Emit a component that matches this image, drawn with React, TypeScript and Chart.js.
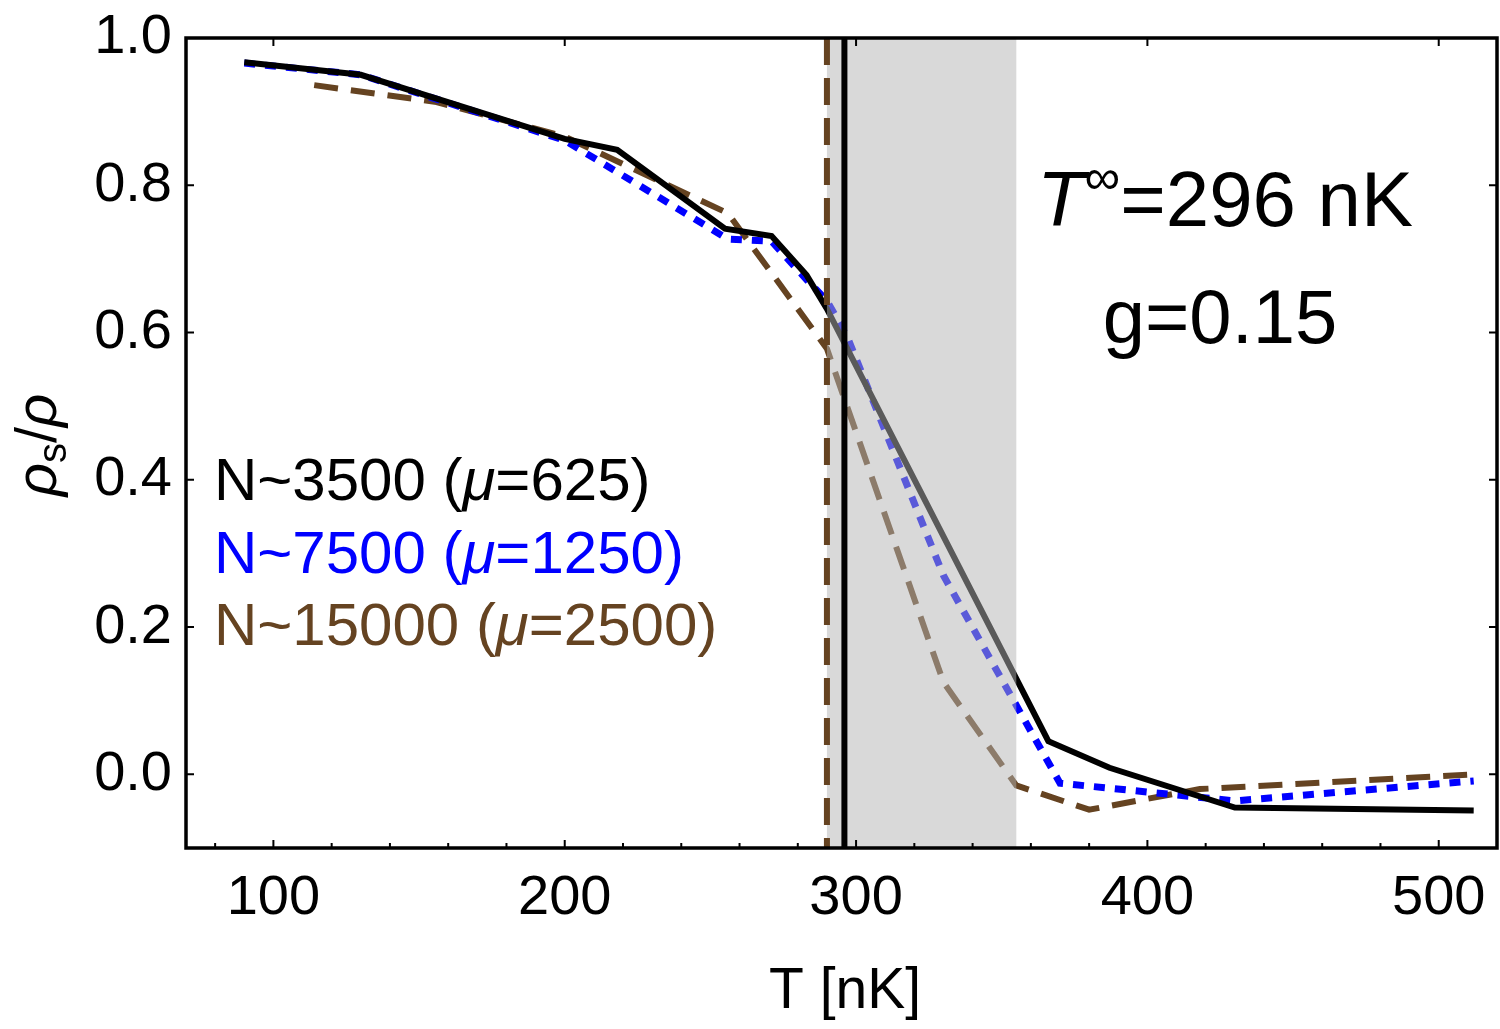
import { useEffect, useRef } from 'react'
import { Chart, registerables } from 'chart.js'

Chart.register(...registerables)

// N~3500 (mu=625)
const tempSmall = [90, 130, 200, 218, 255, 271, 283, 290, 366, 387, 430, 512]
const rhoSmall = [0.967, 0.95, 0.863, 0.848, 0.741, 0.731, 0.678, 0.632, 0.045, 0.009, -0.045, -0.049]

// N~7500 (mu=1250)
const tempMid = [90, 130, 200, 256, 271, 283, 290, 297, 330, 370, 430, 512]
const rhoMid = [0.966, 0.95, 0.861, 0.727, 0.724, 0.672, 0.643, 0.594, 0.27, -0.012, -0.036, -0.009]

// N~15000 (mu=2500)
const tempLarge = [114, 156, 200, 256, 290, 330, 355, 380, 418, 512]
const rhoLarge = [0.936, 0.913, 0.866, 0.762, 0.578, 0.125, -0.015, -0.048, -0.02, 0.0]

const xTicks = [100, 200, 300, 400, 500]
const xMinorTicks = [80, 120, 140, 160, 180, 220, 240, 260, 280, 320, 340, 360, 380, 420, 440, 460, 480, 520]
const yTicks = [0.0, 0.2, 0.4, 0.6, 0.8, 1.0]

const tInfinity = 296
const tLargeCrit = 290
const criticalBand = [290, 355]

const BLACK = '#000000'
const BLUE = '#0000ff'
const BROWN = '#654321'
const FONT = '"Liberation Sans", Arial, Helvetica, sans-serif'

type Seg = { text: string; italic?: boolean; size?: number; dy?: number; color?: string }

function drawRich(
  ctx: CanvasRenderingContext2D,
  segs: Seg[],
  x: number,
  y: number,
  size: number,
  color: string,
  align: 'left' | 'center',
) {
  const fontOf = (s: Seg) => `${s.italic ? 'italic ' : ''}${s.size ?? size}px ${FONT}`
  let total = 0
  for (const s of segs) {
    ctx.font = fontOf(s)
    total += ctx.measureText(s.text).width
  }
  let cx = align === 'center' ? x - total / 2 : x
  ctx.textAlign = 'left'
  ctx.textBaseline = 'alphabetic'
  for (const s of segs) {
    ctx.font = fontOf(s)
    ctx.fillStyle = s.color ?? color
    ctx.fillText(s.text, cx, y + (s.dy ?? 0))
    cx += ctx.measureText(s.text).width
  }
}

const overlayPlugin = {
  id: 'overlay',
  afterDatasetsDraw(chart: any) {
    const { ctx, chartArea: a, scales } = chart
    const x = scales.x
    const y = scales.y
    ctx.save()

    // shaded critical region, drawn over the curves
    const b0 = x.getPixelForValue(criticalBand[0])
    const b1 = x.getPixelForValue(criticalBand[1])
    ctx.fillStyle = 'rgba(180,180,180,0.5)'
    ctx.fillRect(b0, a.top, b1 - b0, a.bottom - a.top)

    // vertical markers
    const xb = x.getPixelForValue(tLargeCrit)
    ctx.strokeStyle = BROWN
    ctx.lineWidth = 6
    ctx.setLineDash([27, 13])
    ctx.beginPath()
    ctx.moveTo(xb, a.top)
    ctx.lineTo(xb, a.bottom)
    ctx.stroke()
    ctx.setLineDash([])

    const xi = x.getPixelForValue(tInfinity)
    ctx.strokeStyle = BLACK
    ctx.lineWidth = 6
    ctx.beginPath()
    ctx.moveTo(xi, a.top)
    ctx.lineTo(xi, a.bottom)
    ctx.stroke()

    // frame
    ctx.lineWidth = 3.5
    ctx.strokeRect(a.left, a.top, a.right - a.left, a.bottom - a.top)

    // inward ticks
    ctx.lineWidth = 2
    ctx.beginPath()
    for (const v of xTicks) {
      const px = x.getPixelForValue(v)
      ctx.moveTo(px, a.bottom)
      ctx.lineTo(px, a.bottom - 8)
      ctx.moveTo(px, a.top)
      ctx.lineTo(px, a.top + 8)
    }
    for (const v of xMinorTicks) {
      const px = x.getPixelForValue(v)
      ctx.moveTo(px, a.bottom)
      ctx.lineTo(px, a.bottom - 5)
    }
    for (const v of yTicks) {
      const py = y.getPixelForValue(v)
      ctx.moveTo(a.left, py)
      ctx.lineTo(a.left + 8, py)
      ctx.moveTo(a.right, py)
      ctx.lineTo(a.right - 8, py)
    }
    ctx.stroke()
    ctx.restore()
  },
  afterDraw(chart: any) {
    const { ctx } = chart
    ctx.save()

    // axis titles
    drawRich(ctx, [{ text: 'T [nK]' }], 845, 1008, 57, BLACK, 'center')
    ctx.save()
    ctx.translate(56, 445)
    ctx.rotate(-Math.PI / 2)
    drawRich(
      ctx,
      [
        { text: 'ρ', italic: true },
        { text: 's', size: 40, dy: 10 },
        { text: '/' },
        { text: 'ρ', italic: true },
      ],
      0,
      0,
      58,
      BLACK,
      'center',
    )
    ctx.restore()

    // annotation
    drawRich(
      ctx,
      [
        { text: 'T', italic: true },
        { text: '∞', size: 50, dy: -32 },
        { text: '=296 nK' },
      ],
      1225,
      226,
      78,
      BLACK,
      'center',
    )
    drawRich(ctx, [{ text: 'g=0.15' }], 1220, 343, 76, BLACK, 'center')

    // legend
    const legend: [string, string, string][] = [
      ['N~3500 (', '=625)', BLACK],
      ['N~7500 (', '=1250)', BLUE],
      ['N~15000 (', '=2500)', BROWN],
    ]
    legend.forEach(([a, b, c], i) => {
      drawRich(ctx, [{ text: a }, { text: 'μ', italic: true }, { text: b }], 214, 500 + i * 72.5, 60, c, 'left')
    })
    ctx.restore()
  },
}

export default function App() {
  const canvasRef = useRef<HTMLCanvasElement>(null)

  useEffect(() => {
    document.body.style.margin = '0'
    if (!canvasRef.current) return
    const ctx = canvasRef.current.getContext('2d')
    if (!ctx) return

    const toPoints = (xs: number[], ys: number[]) => xs.map((t, i) => ({ x: t, y: ys[i] }))

    const chart = new Chart(ctx, {
      type: 'line',
      data: {
        datasets: [
          {
            label: 'N~3500 (μ=625)',
            data: toPoints(tempSmall, rhoSmall),
            borderColor: BLACK,
            borderWidth: 6,
            pointRadius: 0,
            tension: 0,
          },
          {
            label: 'N~7500 (μ=1250)',
            data: toPoints(tempMid, rhoMid),
            borderColor: BLUE,
            borderWidth: 7,
            borderDash: [11, 10],
            pointRadius: 0,
            tension: 0,
          },
          {
            label: 'N~15000 (μ=2500)',
            data: toPoints(tempLarge, rhoLarge),
            borderColor: BROWN,
            borderWidth: 6,
            borderDash: [24, 13],
            pointRadius: 0,
            tension: 0,
          },
        ],
      },
      options: {
        responsive: true,
        maintainAspectRatio: false,
        animation: false,
        layout: { padding: { top: 38, right: 3, left: 0, bottom: 0 } },
        plugins: {
          legend: { display: false },
          tooltip: { enabled: false },
        },
        scales: {
          x: {
            type: 'linear',
            min: 70,
            max: 520,
            grid: { display: false, drawTicks: false },
            border: { display: false },
            afterBuildTicks: (scale: any) => {
              scale.ticks = xTicks.map((value) => ({ value }))
            },
            afterFit: (scale: any) => {
              scale.height = 181
              scale.paddingLeft = 0
              scale.paddingRight = 0
            },
            ticks: {
              color: BLACK,
              padding: 17,
              font: { family: FONT, size: 56 },
            },
          },
          y: {
            type: 'linear',
            min: -0.1,
            max: 1.0,
            grid: { display: false, drawTicks: false },
            border: { display: false },
            afterBuildTicks: (scale: any) => {
              scale.ticks = yTicks.map((value) => ({ value }))
            },
            afterFit: (scale: any) => {
              scale.width = 186
              scale.paddingTop = 0
              scale.paddingBottom = 0
            },
            ticks: {
              color: BLACK,
              padding: 14,
              font: { family: FONT, size: 56 },
              callback: (value) => Number(value).toFixed(1),
            },
          },
        },
      },
      plugins: [overlayPlugin],
    })

    return () => chart.destroy()
  }, [])

  return (
    <div style={{ position: 'relative', width: 1500, height: 1029 }}>
      <canvas ref={canvasRef} />
    </div>
  )
}
